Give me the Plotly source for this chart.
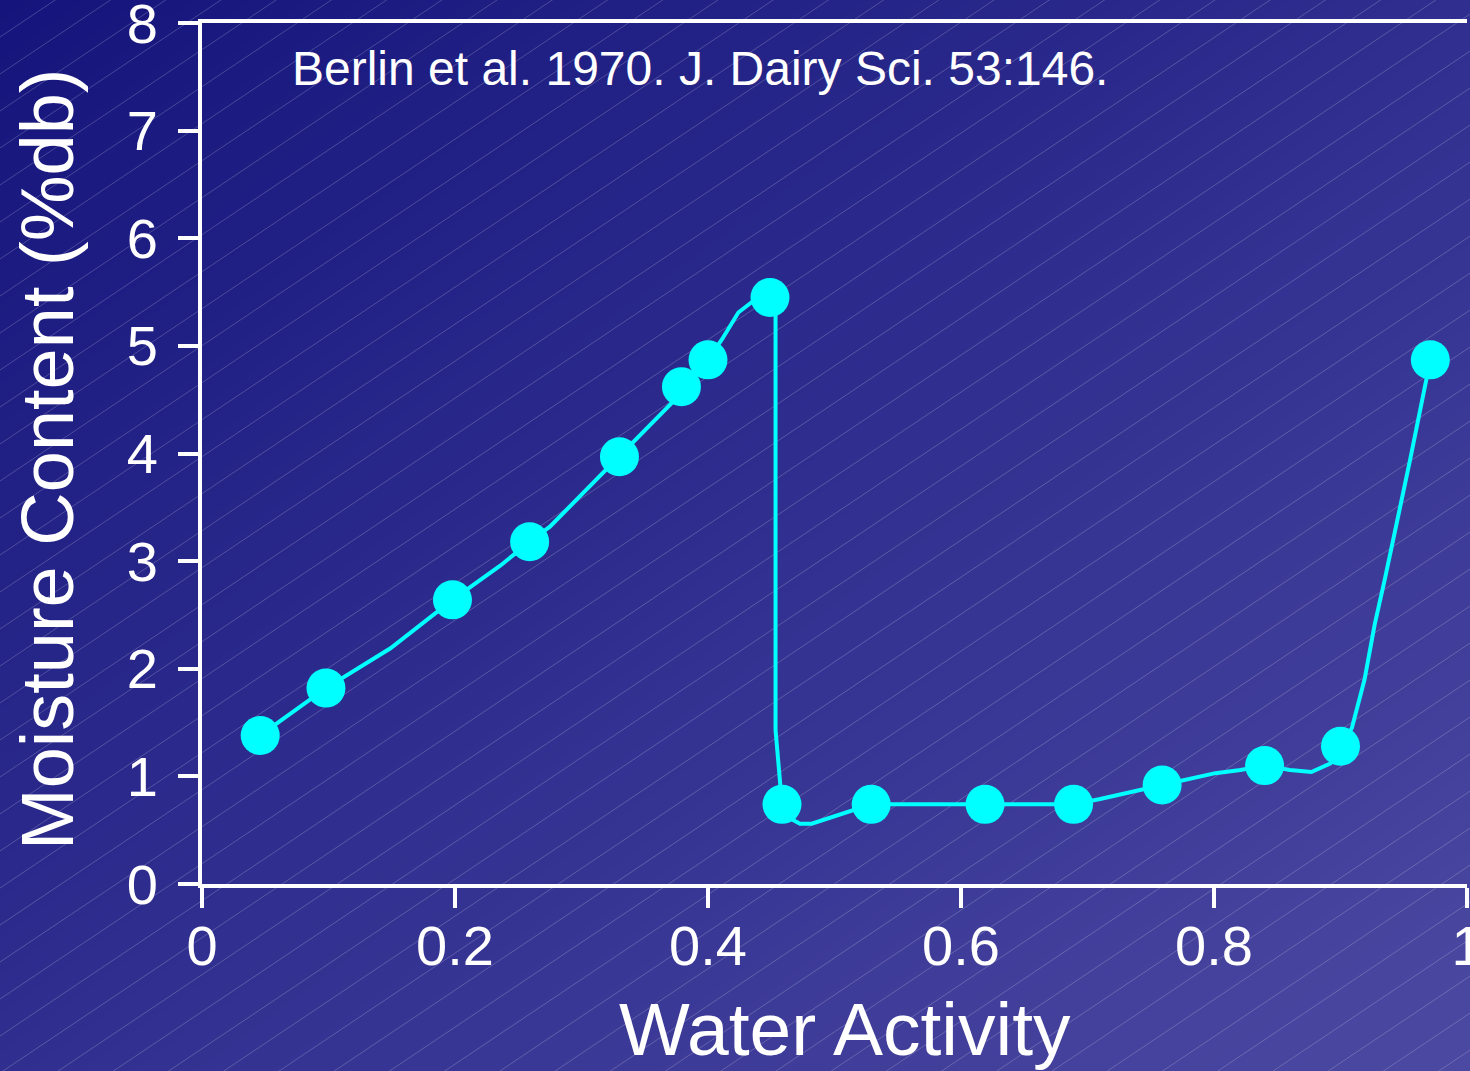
import numpy as np
import plotly.graph_objects as go

# ---------------- data ----------------
# measured points (water activity, moisture content %db)
aw_points = [0.046, 0.098, 0.198, 0.259, 0.330, 0.379, 0.400, 0.449,
             0.4585, 0.529, 0.619, 0.689, 0.759, 0.840, 0.900, 0.971]
mc_points = [1.38, 1.82, 2.64, 3.18, 3.97, 4.62, 4.87, 5.45,
             0.74, 0.74, 0.74, 0.74, 0.92, 1.10, 1.28, 4.87]

# hand-drawn connecting curve
aw_curve = [0.046, 0.098, 0.149, 0.180, 0.198, 0.236, 0.259, 0.275, 0.330,
            0.379, 0.400, 0.411, 0.424, 0.435, 0.449, 0.4534, 0.4534, 0.4561,
            0.4577, 0.4585, 0.4648, 0.4727, 0.482, 0.529, 0.619, 0.689,
            0.710, 0.734, 0.759, 0.801, 0.821, 0.840, 0.860, 0.877, 0.892,
            0.900, 0.909, 0.919, 0.927, 0.935, 0.945, 0.955, 0.971]
mc_curve = [1.38, 1.82, 2.19, 2.48, 2.64, 2.96, 3.18, 3.32, 3.97,
            4.56, 4.87, 5.06, 5.31, 5.41, 5.45, 5.45, 1.43, 1.11,
            0.87, 0.74, 0.61, 0.56, 0.56, 0.74, 0.74, 0.74,
            0.79, 0.85, 0.92, 1.03, 1.06, 1.10, 1.06, 1.04, 1.12,
            1.28, 1.45, 1.90, 2.41, 2.83, 3.38, 3.94, 4.87]

x_tickvals = [0, 0.2, 0.4, 0.6, 0.8, 1]
x_ticktext = ["0", "0.2", "0.4", "0.6", "0.8", "1"]
y_tickvals = [0, 1, 2, 3, 4, 5, 6, 7, 8]
y_ticktext = ["0", "1", "2", "3", "4", "5", "6", "7", "8"]

x_title = "Water Activity"
y_title = "Moisture Content (%db)"
source_note = "Berlin et al. 1970. J. Dairy Sci. 53:146."

# ---------------- styling ----------------
W, H = 1470, 1071
FONT = "Liberation Sans, Arial, Helvetica, sans-serif"
CYAN = "#00FFFF"
WHITE = "#FFFFFF"

fig = go.Figure()

# background gradient (decoration)
gx = np.linspace(0, W, 16)
gy = np.linspace(0, H, 16)
gz = [[(xx / W + yy / H) / 2 for xx in gx] for yy in gy]
fig.add_trace(go.Heatmap(
    x=gx, y=gy, z=gz, zsmooth="best", showscale=False, hoverinfo="skip",
    colorscale=[[0, "rgb(20,20,124)"], [1, "rgb(76,73,162)"]],
    xaxis="x", yaxis="y"))

# faint diagonal texture lines (decoration)
lx, ly = [], []
slope = 0.67
step = 37
c = 0
while c < H + slope * W + step:
    lx += [0, W, None]
    ly += [c, c - slope * W, None]
    c += step
fig.add_trace(go.Scatter(
    x=lx, y=ly, mode="lines", hoverinfo="skip", showlegend=False,
    line=dict(color="rgba(255,255,255,0.2)", width=1),
    xaxis="x", yaxis="y"))

# data
fig.add_trace(go.Scatter(
    x=aw_curve, y=mc_curve, mode="lines", showlegend=False,
    line=dict(color=CYAN, width=4),
    xaxis="x2", yaxis="y2"))
fig.add_trace(go.Scatter(
    x=aw_points, y=mc_points, mode="markers", showlegend=False,
    marker=dict(size=39, color=CYAN, line=dict(width=0)),
    xaxis="x2", yaxis="y2"))

axis_common = dict(
    showline=True, linecolor=WHITE, linewidth=4,
    ticks="outside", ticklen=20, tickwidth=4, tickcolor=WHITE,
    showgrid=False, zeroline=False, automargin=False,
    ticklabeloverflow="allow",
    tickfont=dict(family=FONT, size=56, color=WHITE),
)

fig.update_layout(
    width=W, height=H,
    margin=dict(l=0, r=0, t=0, b=0, autoexpand=False),
    paper_bgcolor="rgb(40,40,135)",
    plot_bgcolor="rgba(0,0,0,0)",
    showlegend=False,
    xaxis=dict(domain=[0, 1], range=[0, W], visible=False, fixedrange=True,
               automargin=False),
    yaxis=dict(domain=[0, 1], range=[H, 0], visible=False, fixedrange=True,
               automargin=False),
    xaxis2=dict(domain=[202 / W, 1467 / W], range=[0, 1], anchor="y2",
                mirror=True, tickvals=x_tickvals, ticktext=x_ticktext,
                ticklabelstandoff=-10, **axis_common),
    yaxis2=dict(domain=[187 / H, 1048 / H], range=[0, 8], anchor="x2",
                tickvals=y_tickvals, ticktext=y_ticktext,
                ticklabelstandoff=9, **axis_common),
    annotations=[
        dict(text=x_title, xref="paper", yref="paper", x=845 / W, y=(H - 1029) / H,
             xanchor="center", yanchor="middle", showarrow=False,
             font=dict(family=FONT, size=75, color=WHITE)),
        dict(text=y_title, xref="paper", yref="paper", x=47 / W, y=(H - 460) / H,
             xanchor="center", yanchor="middle", textangle=-90, showarrow=False,
             font=dict(family=FONT, size=74, color=WHITE)),
        dict(text=source_note, xref="paper", yref="paper", x=290 / W, y=(H - 68) / H,
             xanchor="left", yanchor="middle", showarrow=False,
             font=dict(family=FONT, size=48, color=WHITE)),
    ],
)

fig.write_html("out.html", config={"displayModeBar": False},
               post_script="document.body.style.margin='0';")
